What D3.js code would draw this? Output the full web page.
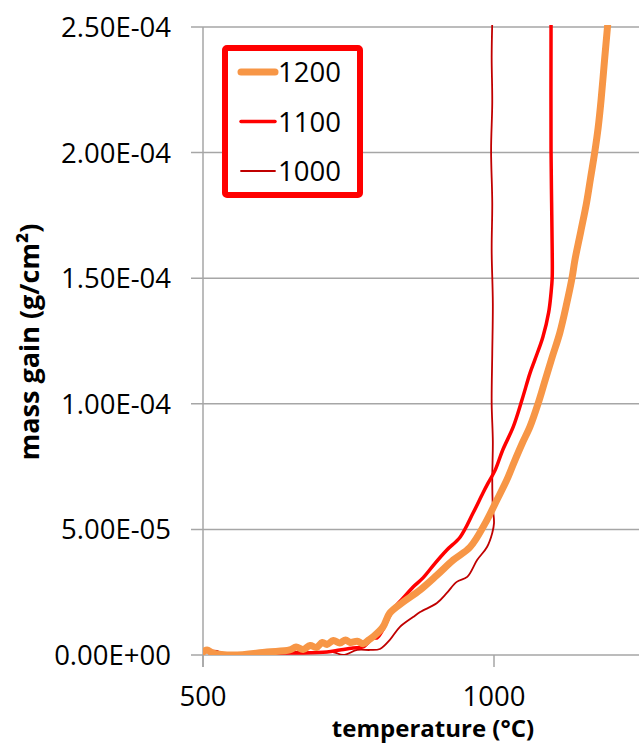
<!DOCTYPE html>
<meta charset="utf-8">
<style>

body {
  margin: 0;
  background: #fff;
}

svg text {
  font-family: "Open Sans", sans-serif;
  fill: #000;
}

.grid line {
  stroke: #a6a6a6;
  stroke-width: 1.5px;
}

.tick-label {
  font-size: 27.5px;
}

.title {
  font-size: 24px;
  font-weight: bold;
}

.series {
  fill: none;
  stroke-linejoin: round;
  stroke-linecap: round;
}

</style>
<body>
<script src="https://cdn.jsdelivr.net/npm/d3@7"></script>
<script>

// temperature (°C) and mass gain (1e-5 g/cm²)
var temp1200 = [500, 507, 517, 552, 610, 649, 660, 672, 684, 695, 705, 713, 724, 735, 745, 753, 765, 775, 785, 792, 809, 821, 844, 873, 902, 930, 959, 985, 1005, 1022, 1035, 1048, 1062, 1076, 1088, 1100, 1113, 1125, 1134, 1139, 1149, 1159, 1166, 1173, 1179, 1184, 1190, 1195, 1199];
var gain1200 = [0.12, 0.2, 0.08, 0, 0.12, 0.2, 0.32, 0.22, 0.38, 0.3, 0.5, 0.42, 0.58, 0.48, 0.6, 0.5, 0.55, 0.45, 0.6, 0.72, 1.11, 1.67, 2.11, 2.59, 3.18, 3.78, 4.30, 5.25, 6.17, 6.97, 7.7, 8.4, 9.1, 10.03, 10.95, 11.86, 12.82, 14.0, 15.0, 15.72, 16.85, 18.0, 19.0, 20.0, 21.0, 22.1, 23.7, 25.0, 26.0];

var temp1100 = [500, 507, 517, 552, 610, 667, 713, 735, 758, 775, 792, 799, 809, 826, 844, 861, 878, 899, 919, 942, 964, 981, 990, 1002, 1015, 1033, 1048, 1062, 1070, 1084, 1094, 1098, 1100, 1100, 1099, 1098, 1098];
var gain1100 = [0.08, 0.16, 0, 0, 0.08, 0.08, 0.12, 0.2, 0.28, 0.32, 0.68, 0.68, 1.0, 1.79, 2.27, 2.71, 3.07, 3.66, 4.18, 4.70, 5.65, 6.45, 6.85, 7.36, 8.16, 9.08, 10.15, 11.23, 11.74, 12.66, 13.65, 14.41, 15.01, 16.12, 18.0, 20.1, 25.2];

var temp1000 = [500, 512, 524, 538, 552, 610, 667, 696, 723, 741, 765, 787, 804, 821, 838, 861, 873, 902, 919, 936, 954, 971, 988, 997, 1000, 998, 997, 998, 996, 997, 998, 996, 997, 995, 997, 996, 997];
var gain1000 = [0.04, 0.16, 0.16, 0, 0, 0.08, 0.12, 0.08, 0.12, 0, 0.2, 0.2, 0.24, 0.6, 1.11, 1.51, 1.71, 2.07, 2.47, 2.91, 3.11, 3.78, 4.30, 4.86, 5.25, 5.89, 6.97, 8.5, 10.03, 12.0, 14.0, 16.12, 18.0, 20.1, 22.0, 23.8, 25.2];

var seriesNames = ["1200", "1100", "1000"];
var seriesColors = ["#f79646", "#ff0000", "#c00000"];
var seriesWidths = [7, 3.5, 1.8];

var xTicks = [500, 1000];
var yTicks = [0, 5e-5, 1e-4, 1.5e-4, 2e-4, 2.5e-4];

var width = 639, height = 744;
var plotLeft = 203, plotRight = 639.5, plotTop = 27, plotBottom = 655;

var svg = d3.select("body").append("svg")
    .attr("width", width)
    .attr("height", height);

var x = d3.scaleLinear().domain([500, 1250]).range([plotLeft, plotRight]);
var y = d3.scaleLinear().domain([0, 2.5e-4]).range([plotBottom, plotTop]);

svg.append("defs").append("clipPath")
    .attr("id", "plot")
  .append("rect")
    .attr("x", plotLeft)
    .attr("y", plotTop - 2)
    .attr("width", plotRight - plotLeft)
    .attr("height", plotBottom - plotTop + 2);

// horizontal gridlines, with the little tick stubs on the left
var grid = svg.append("g").attr("class", "grid");

grid.selectAll(".h")
    .data(yTicks)
  .enter().append("line")
    .attr("class", "h")
    .attr("x1", plotLeft - 12)
    .attr("x2", width)
    .attr("y1", function(d) { return y(d); })
    .attr("y2", function(d) { return y(d); });

grid.append("line")
    .attr("x1", plotLeft)
    .attr("x2", plotLeft)
    .attr("y1", plotTop)
    .attr("y2", plotBottom + 12);

grid.selectAll(".xt")
    .data(xTicks)
  .enter().append("line")
    .attr("class", "xt")
    .attr("x1", function(d) { return x(d); })
    .attr("x2", function(d) { return x(d); })
    .attr("y1", plotBottom)
    .attr("y2", plotBottom + 12);

// tick labels
var yFormat = function(d) {
  var s = d.toExponential(2).toUpperCase();
  return s.replace(/E([+-])(\d)$/, "E$10$2");
};

svg.selectAll(".ylab")
    .data(yTicks)
  .enter().append("text")
    .attr("class", "tick-label")
    .attr("x", 171)
    .attr("y", function(d) { return y(d) + 10; })
    .attr("text-anchor", "end")
    .text(yFormat);

svg.selectAll(".xlab")
    .data(xTicks)
  .enter().append("text")
    .attr("class", "tick-label")
    .attr("x", function(d) { return x(d); })
    .attr("y", 706)
    .attr("text-anchor", "middle")
    .text(function(d) { return d; });

svg.append("text")
    .attr("class", "title")
    .attr("x", 433)
    .attr("y", 737)
    .attr("text-anchor", "middle")
    .text("temperature (°C)");

svg.append("text")
    .attr("class", "title")
    .style("font-size", "27px")
    .attr("transform", "translate(39,342) rotate(-90)")
    .attr("text-anchor", "middle")
    .text("mass gain (g/cm²)");

// series
var series = [
  { t: temp1200, g: gain1200 },
  { t: temp1100, g: gain1100 },
  { t: temp1000, g: gain1000 }
].map(function(s, i) {
  return {
    name: seriesNames[i],
    color: seriesColors[i],
    width: seriesWidths[i],
    points: s.t.map(function(t, j) { return [t, s.g[j] * 1e-5]; })
  };
});

var line = d3.line()
    .x(function(d) { return x(d[0]); })
    .y(function(d) { return y(d[1]); })
    .curve(d3.curveCatmullRom.alpha(0.5));

svg.append("g")
    .attr("clip-path", "url(#plot)")
  .selectAll("path")
    .data(series.slice().reverse())
  .enter().append("path")
    .attr("class", "series")
    .attr("d", function(d) { return line(d.points); })
    .attr("stroke", function(d) { return d.color; })
    .attr("stroke-width", function(d) { return d.width; });

// legend
var legend = svg.append("g");

legend.append("rect")
    .attr("x", 225)
    .attr("y", 48)
    .attr("width", 135)
    .attr("height", 147)
    .attr("rx", 2)
    .attr("fill", "#fff")
    .attr("stroke", "#ff0000")
    .attr("stroke-width", 6);

var item = legend.selectAll(".item")
    .data(series)
  .enter().append("g")
    .attr("transform", function(d, i) { return "translate(0," + (72 + i * 49.5) + ")"; });

item.append("line")
    .attr("x1", 241)
    .attr("x2", 275)
    .attr("stroke", function(d) { return d.color; })
    .attr("stroke-width", function(d) { return d.width; })
    .attr("stroke-linecap", "round");

item.append("text")
    .attr("class", "tick-label")
    .attr("x", 278)
    .attr("y", 10)
    .text(function(d) { return d.name; });

</script>
</body>
